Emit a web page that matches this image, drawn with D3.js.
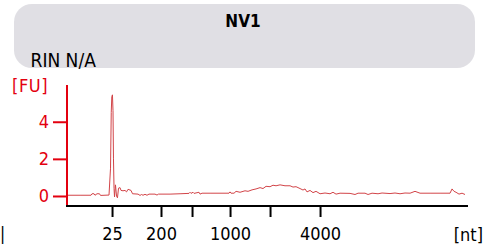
<!DOCTYPE html>
<html>
<head>
<meta charset="utf-8">
<script src="https://cdn.jsdelivr.net/npm/d3@7"></script>
<style>
  body { margin: 0; background: #fff; }
  svg text { font-family: "DejaVu Sans Condensed", "Open Sans", sans-serif; }
</style>
</head>
<body>
<svg class="chart" width="490" height="248"></svg>
<script>
const sampleName = 'NV1'
const rinLabel = 'RIN N/A'

// ladder: size in nt and migration time in s
const ladderSizes = [25, 200, 500, 1000, 2000, 4000]
const ladderTimes = [22.63, 28.75, 32.63, 37.38, 42.38, 48.63]
const ladderLabels = ['25', '200', '', '1000', '', '4000']

const yTicks = [0, 2, 4]

// electropherogram trace: time [s], fluorescence [FU]
const traceTime = [
  17.0, 18.63, 20.0, 20.13, 20.38, 20.5, 20.75, 21.06, 21.19, 22.25,
  22.44, 22.53, 22.6, 22.68, 22.75, 22.81, 22.88, 22.94, 23.06, 23.19,
  23.31, 23.44, 23.63, 23.75, 24.0, 24.25, 24.44, 24.63, 25.0, 25.19,
  25.88, 26.13, 26.31, 26.5, 26.75, 27.0, 27.25, 28.0, 28.25, 28.44,
  29.88, 31.13, 32.25, 32.38, 32.5, 32.75, 32.88, 33.5, 33.63, 33.88,
  34.88, 37.25, 37.38, 37.5, 37.88, 38.13, 38.63, 39.25, 39.63, 40.13,
  40.63, 41.13, 41.5, 41.88, 42.38, 42.75, 43.13, 43.63, 44.25, 44.88,
  45.25, 45.63, 46.13, 46.5, 46.75, 47.0, 47.38, 47.75, 48.13, 48.63,
  49.25, 49.88, 50.25, 50.63, 51.13, 52.38, 53.0, 53.38, 54.25, 54.63,
  55.13, 55.88, 56.38, 57.38, 58.0, 58.63, 59.25, 59.88, 60.5, 61.13,
  62.38, 63.63, 64.88, 65.13, 65.38, 65.63, 66.0, 66.38, 66.75
]
const traceFU = [
  0.04, 0.04, 0.04, 0.12, 0.12, 0.04, 0.12, 0.12, 0.03, 0.05,
  1.5, 4.5, 5.35, 5.45, 4.6, 2.0, 0.4, -0.05, 0.6, 0.0,
  -0.1, 0.42, 0.45, 0.3, 0.28, 0.3, 0.22, 0.36, 0.3, 0.12,
  0.1, 0.03, 0.08, 0.04, 0.09, 0.04, 0.1, 0.1, 0.05, 0.1,
  0.1, 0.12, 0.14, 0.2, 0.14, 0.2, 0.14, 0.2, 0.1, 0.15,
  0.15, 0.15, 0.22, 0.15, 0.15, 0.25, 0.2, 0.28, 0.25, 0.33,
  0.38, 0.45, 0.4, 0.52, 0.5, 0.58, 0.55, 0.6, 0.55, 0.55,
  0.48, 0.5, 0.4, 0.32, 0.38, 0.22, 0.3, 0.18, 0.25, 0.12,
  0.16, 0.12, 0.2, 0.1, 0.15, 0.14, 0.08, 0.15, 0.15, 0.08,
  0.15, 0.12, 0.16, 0.13, 0.16, 0.12, 0.16, 0.15, 0.25, 0.15,
  0.15, 0.15, 0.15, 0.38, 0.25, 0.2, 0.1, 0.15, 0.08
]

const red = '#e3000f'

let svg = d3.select('svg.chart')

// header box
svg.append('rect')
    .attr('x', 14).attr('y', 4)
    .attr('width', 461).attr('height', 64)
    .attr('rx', 18).attr('ry', 18)
    .attr('fill', '#e0dfe4')

svg.append('text')
    .attr('x', 243).attr('y', 26.5)
    .attr('text-anchor', 'middle')
    .attr('font-size', 17).attr('font-weight', 'bold')
    .attr('fill', '#000')
    .text(sampleName)

svg.append('text')
    .attr('x', 30.5).attr('y', 66.5)
    .attr('font-size', 19)
    .attr('fill', '#000')
    .text(rinLabel)

let x = d3.scaleLinear().domain([17, 67.125]).range([67, 468])
let y = d3.scaleLinear().domain([-0.54, 5.98]).range([206, 85])

// trace
let line = d3.line()
    .x((d, i) => x(traceTime[i]))
    .y(d => y(d))

svg.append('path')
    .datum(traceFU)
    .attr('d', line)
    .attr('fill', 'none')
    .attr('stroke', '#d24448')
    .attr('stroke-width', 1)

// y axis
let yAxis = svg.append('g')
    .attr('transform', 'translate(67,0)')
    .call(d3.axisLeft(y).tickValues(yTicks).tickSize(14).tickPadding(4).tickFormat(d3.format('d')))
yAxis.select('.domain').remove()
yAxis.selectAll('.tick line').attr('stroke', red).attr('stroke-width', 2)
yAxis.selectAll('.tick text')
    .attr('fill', red)
    .attr('font-size', 18)
    .attr('font-family', null)

svg.append('line')
    .attr('x1', 67).attr('x2', 67)
    .attr('y1', 85).attr('y2', 207)
    .attr('stroke', red).attr('stroke-width', 2)

svg.append('text')
    .attr('x', 12).attr('y', 92)
    .attr('font-size', 18)
    .attr('fill', red)
    .attr('letter-spacing', 0.6)
    .text('[FU]')

// x axis
let xAxis = svg.append('g')
    .attr('transform', 'translate(0,206)')
    .call(d3.axisBottom(x).tickValues(ladderTimes).tickSize(11).tickPadding(10)
        .tickFormat((d, i) => ladderLabels[i]))
xAxis.select('.domain').remove()
xAxis.selectAll('.tick line').attr('stroke', '#000').attr('stroke-width', 2)
xAxis.selectAll('.tick text')
    .attr('fill', '#000')
    .attr('font-size', 18)
    .attr('font-family', null)

svg.append('line')
    .attr('x1', 66).attr('x2', 468)
    .attr('y1', 206).attr('y2', 206)
    .attr('stroke', '#000').attr('stroke-width', 2)

svg.append('text')
    .attr('x', 483).attr('y', 240.5)
    .attr('text-anchor', 'end')
    .attr('font-size', 18)
    .attr('fill', '#000')
    .text('[nt]')

// edge of the neighbouring panel's unit label
svg.append('text')
    .attr('x', 0).attr('y', 240)
    .attr('font-size', 17)
    .attr('fill', '#000')
    .text('|')
</script>
</body>
</html>
